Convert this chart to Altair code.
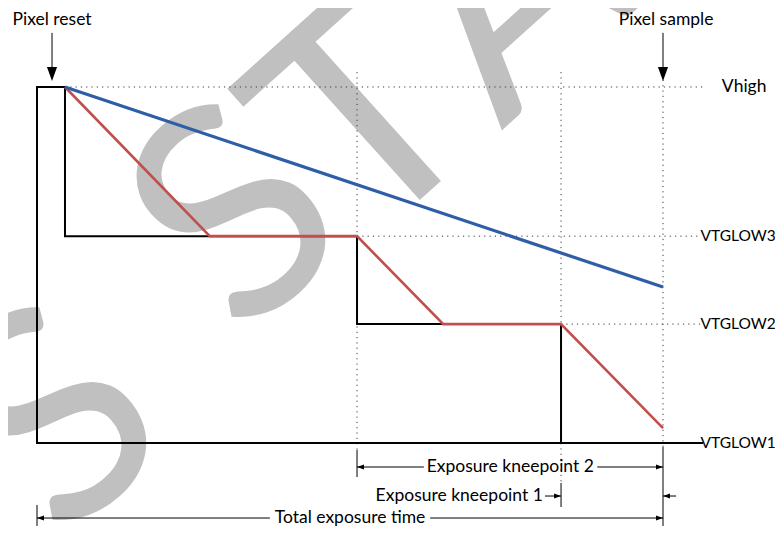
import altair as alt
import pandas as pd

# ---------------- diagram values ----------------
# time axis: 0 = pixel reset, 100 = pixel sample (total exposure time)
# voltage axis: 0 = VTGLOW1, 1 = Vhigh
level_names = ["Vhigh", "VTGLOW3", "VTGLOW2", "VTGLOW1"]
level_values = [1.0, 0.581, 0.334, 0.0]

t_reset_end = 4.47
t_knee2 = 51.12
t_knee1 = 83.71
t_sample = 100.0

# black: transfer-gate voltage staircase
black_t = [106.4, 0.0, 0.0, 4.47, 4.47, 51.12, 51.12, 83.71, 83.71]
black_v = [0.0, 0.0, 1.0, 1.0, 0.581, 0.581, 0.334, 0.334, 0.0]
# red: bright pixel, clamped at each kneepoint
red_t = [4.47, 27.6, 51.12, 64.9, 83.71, 100.0]
red_v = [1.0, 0.581, 0.581, 0.334, 0.334, 0.042]
# blue: dim pixel, never clamped
blue_t = [4.47, 100.0]
blue_v = [1.0, 0.438]

watermark_letters = ["S", "S", "T", "A"]
watermark_t = [4.0, 32.6, 53.3, 76.5]
watermark_v = [0.05, 0.62, 0.895, 1.25]

# ---------------- layout ----------------
W, H = 767, 518
xs = alt.Scale(domain=[-4.633, 117.89], nice=False, zero=False)
ys = alt.Scale(domain=[-0.2331, 1.2219], nice=False, zero=False)
FONT = "Lato"
FS = 17.5

V_K2 = -0.0674   # kneepoint-2 dimension row
V_K1 = -0.1489   # kneepoint-1 dimension row
V_TOT = -0.2107  # total exposure dimension row


def X(f="t"):
    return alt.X(f"{f}:Q", scale=xs, axis=None)


def Y(f="v"):
    return alt.Y(f"{f}:Q", scale=ys, axis=None)


def path_df(ts, vs):
    return pd.DataFrame({"t": ts, "v": vs, "i": list(range(len(ts)))})


wm = alt.Chart(pd.DataFrame({"letter": watermark_letters, "t": watermark_t, "v": watermark_v})).mark_text(
    font=FONT, fontSize=295, color="#c0c0c0", angle=318, align="center", baseline="middle"
).encode(x=X(), y=Y(), text="letter:N")

# dotted guide lines
dotted = pd.DataFrame({
    "t": [t_reset_end, t_knee2, t_knee1, t_knee2, t_knee1, t_sample],
    "t2": [106.4, 106.0, 106.0, t_knee2, t_knee1, t_sample],
    "v": [level_values[0], level_values[1], level_values[2], 1.042, 1.042, 1.02],
    "v2": [level_values[0], level_values[1], level_values[2], -0.02, -0.112, -0.011],
})
dotted_layer = alt.Chart(dotted).mark_rule(color="#3a3a3a", strokeWidth=1, strokeDash=[1.2, 4.1]).encode(
    x=X(), x2="t2:Q", y=Y(), y2="v2:Q"
)

# solid annotation segments (ticks and arrow shafts)
seg = pd.DataFrame({
    "t": [t_knee2, t_knee1, t_sample, 0.0, t_knee2, 89.5, 81.15, t_sample, 0.0, 62.8, 2.4, t_sample],
    "t2": [t_knee2, t_knee1, t_sample, 0.0, 61.8, t_sample, t_knee1, 102.1, 37.2, t_sample, 2.4, t_sample],
    "v": [-0.0197, -0.1124, -0.0112, -0.174, V_K2, V_K2, V_K1, V_K1, V_TOT, V_TOT, 1.152, 1.152],
    "v2": [-0.0955, -0.1798, -0.2331, -0.2331, V_K2, V_K2, V_K1, V_K1, V_TOT, V_TOT, 1.05, 1.05],
})
seg_layer = alt.Chart(seg).mark_rule(color="#000000", strokeWidth=1).encode(
    x=X(), x2="t2:Q", y=Y(), y2="v2:Q"
)

black_layer = alt.Chart(path_df(black_t, black_v)).mark_line(color="#000000", strokeWidth=2).encode(
    x=X(), y=Y(), order="i:Q"
)
red_layer = alt.Chart(path_df(red_t, red_v)).mark_line(color="#c0504d", strokeWidth=2.6).encode(
    x=X(), y=Y(), order="i:Q"
)
blue_layer = alt.Chart(path_df(blue_t, blue_v)).mark_line(color="#2f5ea8", strokeWidth=3.2).encode(
    x=X(), y=Y(), order="i:Q"
)

# arrow heads (tip at the point)
RIGHT = "M0,0L-1,-0.36L-1,0.36Z"
LEFT = "M0,0L1,-0.36L1,0.36Z"
DOWN = "M0,0L-0.36,-1L0.36,-1Z"
heads = pd.DataFrame({
    "t": [t_knee2, t_sample, t_knee1, t_sample, 0.0, t_sample, 2.4, t_sample],
    "v": [V_K2, V_K2, V_K1, V_K1, V_TOT, V_TOT, 1.017, 1.017],
    "shape": [LEFT, RIGHT, RIGHT, LEFT, LEFT, RIGHT, DOWN, DOWN],
    "size": [196, 196, 196, 196, 196, 196, 784, 784],
})
head_layer = alt.Chart(heads).mark_point(filled=True, color="#000000", opacity=1, strokeWidth=0).encode(
    x=X(), y=Y(), shape=alt.Shape("shape:N", scale=None), size=alt.Size("size:Q", scale=None)
)

# labels
center_labels = pd.DataFrame({
    "label": ["Pixel reset", "Pixel sample", "Exposure kneepoint 2", "Total exposure time"],
    "t": [2.4, 100.5, 75.6, 50.0],
    "v": [1.187, 1.187, V_K2, V_TOT],
})
vhigh_label = pd.DataFrame({"label": level_names[:1], "t": [109.4], "v": level_values[:1]})
glow_labels = pd.DataFrame({"label": level_names[1:], "t": [106.0] * 3, "v": level_values[1:]})
right_labels = pd.DataFrame({"label": ["Exposure kneepoint 1"], "t": [80.8], "v": [V_K1]})


def text_layer(df, align, size=FS):
    return alt.Chart(df).mark_text(font=FONT, fontSize=size, color="#000000", align=align, baseline="middle").encode(
        x=X(), y=Y(), text="label:N"
    )


chart = alt.layer(
    wm, dotted_layer, seg_layer, black_layer, red_layer, blue_layer, head_layer,
    text_layer(center_labels, "center"), text_layer(vhigh_label, "left"),
    text_layer(glow_labels, "left", 15.5), text_layer(right_labels, "right"),
).properties(
    width=W, height=H, padding=0, autosize=alt.AutoSizeParams(type="none"), background="#ffffff"
).configure_view(stroke=None)

chart.save("out.html", embed_options={"renderer": "svg", "actions": False})
